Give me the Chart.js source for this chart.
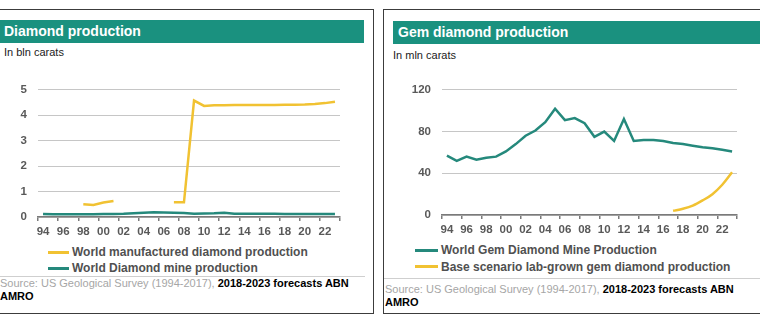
<!DOCTYPE html>
<html>
<head>
<meta charset="utf-8">
<script src="https://cdn.jsdelivr.net/npm/chart.js@4"></script>
<style>
  body { margin:0; width:760px; height:323px; overflow:hidden; background:#fff; position:relative;
         font-family:"Liberation Sans", Arial, sans-serif; }
  .box { position:absolute; top:9px; height:303px; border:1px solid #3c3c3c; }
  .head { position:absolute; height:23px; background:#1a917f; color:#fff; font-weight:bold;
          font-size:14px; line-height:23px; box-sizing:border-box; white-space:nowrap; }
  .sub { position:absolute; font-size:11px; line-height:13px; color:#222; }
  .wrap { position:absolute; }
  .legend { position:absolute; font-size:12px; font-weight:bold; color:#505050; line-height:16px; }
  .legend div { display:flex; align-items:center; white-space:nowrap; }
  .legend .sw { display:inline-block; height:3px; margin-right:3px; }
  .rule { position:absolute; height:1px; background:#cfcfcf; }
  .src { position:absolute; font-size:11px; line-height:12.5px; color:#a6a6a6; white-space:nowrap; }
  .src b { color:#000; }
</style>
</head>
<body>

<!-- left panel -->
<div class="box" style="left:-10px; width:382px;"></div>
<div class="head" style="left:0; top:20px; width:364px; padding-left:4px;">Diamond production</div>
<div class="sub" style="left:4px; top:46px;">In bln carats</div>
<div class="wrap" style="left:0; top:72px;"><canvas id="chartLeft" width="370" height="170"></canvas></div>
<div class="legend" id="legendLeft" style="left:48px; top:244px;"></div>
<div class="rule" style="left:0; top:276px; width:365px;"></div>
<div class="src" style="left:0; top:277px;">Source: US Geological Survey (1994-2017), <b>2018-2023 forecasts ABN</b><br><b>AMRO</b></div>

<!-- right panel -->
<div class="box" style="left:383px; width:400px;"></div>
<div class="head" style="left:393px; top:21px; width:380px; padding-left:5px;">Gem diamond production</div>
<div class="sub" style="left:393px; top:49px;">In mln carats</div>
<div class="wrap" style="left:392px; top:72px;"><canvas id="chartRight" width="370" height="170"></canvas></div>
<div class="legend" id="legendRight" style="left:415px; top:242px; line-height:16.5px;"></div>
<div class="rule" style="left:384px; top:278px; width:380px;"></div>
<div class="src" style="left:385px; top:283px;">Source: US Geological Survey (1994-2017), <b>2018-2023 forecasts ABN</b><br><b>AMRO</b></div>

<script>
// 1994 .. 2023
const years = ['94','95','96','97','98','99','00','01','02','03','04','05','06','07','08','09',
               '10','11','12','13','14','15','16','17','18','19','20','21','22','23'];

// bln carats
const manufactured = [null, null, null, null, 0.50, 0.47, 0.57, 0.63, null, null, null, null, null,
                      0.58, 0.58, 4.58, 4.37, 4.40, 4.40, 4.41, 4.41, 4.41, 4.41, 4.41, 4.42,
                      4.42, 4.43, 4.45, 4.48, 4.53];
const minedAll = [0.12, 0.11, 0.11, 0.11, 0.11, 0.11, 0.12, 0.12, 0.13, 0.15, 0.17, 0.19, 0.18,
                  0.17, 0.16, 0.13, 0.14, 0.15, 0.17, 0.13, 0.13, 0.13, 0.13, 0.13, 0.12, 0.12,
                  0.12, 0.12, 0.12, 0.12];

// mln carats
const gemMined = [57, 52, 56, 53, 55, 56, 61, 68, 76, 81, 89, 102, 91, 93, 88, 75, 80, 71, 92,
                  71, 72, 72, 71, 69, 68, 66.5, 65, 64, 62.5, 61];
const labGrown = [null, null, null, null, null, null, null, null, null, null, null, null, null,
                  null, null, null, null, null, null, null, null, null, null, 4, 6, 9, 14, 20, 29, 41];

const YELLOW = '#f1c232';
const TEAL = '#25897c';

const leftSeries = [
  { label: 'World manufactured diamond production', data: manufactured, borderColor: YELLOW },
  { label: 'World Diamond mine production', data: minedAll, borderColor: TEAL }
];
const rightSeries = [
  { label: 'World Gem Diamond Mine Production', data: gemMined, borderColor: TEAL },
  { label: 'Base scenario lab-grown gem diamond production', data: labGrown, borderColor: YELLOW,
    cubicInterpolationMode: 'monotone' }
];

const tickFont = { family: '"Liberation Sans", Arial, sans-serif', size: 11.5, weight: 'bold' };

function makeChart(id, datasets, yMax, yStep, axisW, xH, padTop, padRight) {
  return new Chart(document.getElementById(id), {
    type: 'line',
    data: { labels: years, datasets: datasets.map(d => Object.assign({ borderWidth: 2.5, spanGaps: false }, d)) },
    options: {
      responsive: false,
      animation: false,
      layout: { padding: { top: padTop, right: padRight, left: 0, bottom: 0 } },
      plugins: { legend: { display: false }, tooltip: { enabled: false } },
      elements: { point: { radius: 0 }, line: { tension: 0 } },
      scales: {
        x: {
          offset: true,
          grid: {
            offset: true,
            drawOnChartArea: false,
            tickLength: 4,
            lineWidth: 1.5,
            // tick marks only on every second boundary, plus the closing one
            color: c => (c.index === undefined || c.index % 2 === 0) ? '#7a7a7a' : 'rgba(0,0,0,0)'
          },
          border: { color: '#7a7a7a', width: 1.5 },
          ticks: {
            autoSkip: false, maxRotation: 0, padding: 4, color: '#595959', font: tickFont,
            callback: (v, i) => i % 2 === 0 ? years[i] : ''
          },
          afterFit: s => { s.height = xH; }
        },
        y: {
          min: 0, max: yMax,
          grid: { color: '#c6c6c6', drawTicks: false },
          border: { display: false },
          ticks: { stepSize: yStep, padding: 11, color: '#595959', font: tickFont },
          afterFit: s => { s.width = axisW; }
        }
      }
    }
  });
}

function buildLegend(id, datasets, swatch) {
  const el = document.getElementById(id);
  datasets.forEach(d => {
    const row = document.createElement('div');
    row.innerHTML = `<span class="sw" style="width:${swatch}px;background:${d.borderColor}"></span>${d.label}`;
    el.appendChild(row);
  });
}

makeChart('chartLeft', leftSeries, 5, 1, 38, 25, 10, 30);
makeChart('chartRight', rightSeries, 120, 40, 50, 27, 12, 25);
buildLegend('legendLeft', leftSeries, 21);
buildLegend('legendRight', rightSeries, 23);
</script>
</body>
</html>
